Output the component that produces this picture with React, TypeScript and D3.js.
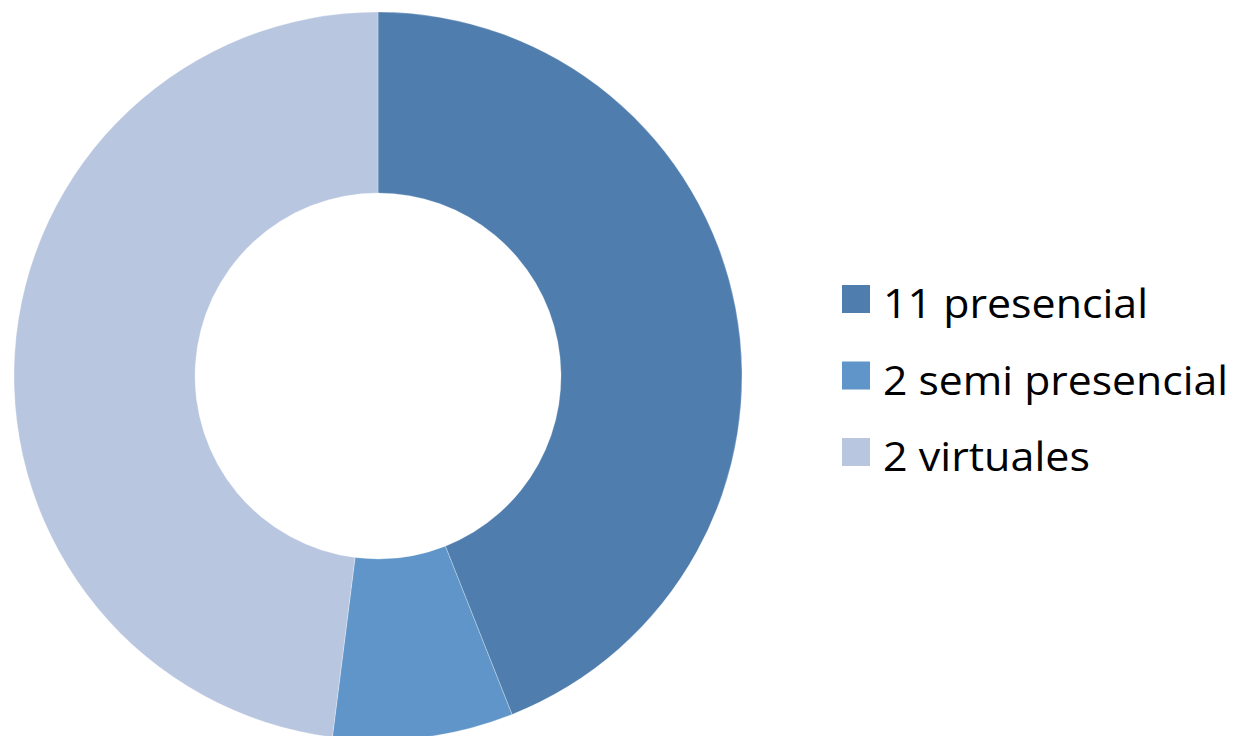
import React from "react";
import * as d3 from "d3";

const categories = ["11 presencial", "2 semi presencial", "2 virtuales"];
const values = [11, 2, 12];
const colors = ["#4F7DAE", "#5F95C8", "#B8C6E0"];
const legendWidths = [265, 345, 207];

export default function App() {
  const W = 1236, H = 736;
  const cx = 378, cy = 376, rOuter = 364, rInner = 183;
  const pie = d3.pie<number>().sort(null).value((d) => d);
  const arcs = pie(values);
  const arc = d3.arc<d3.PieArcDatum<number>>().innerRadius(rInner).outerRadius(rOuter);
  const legendY = d3.scaleLinear().domain([0, 1]).range([285, 361.5]);
  return (
    <svg width={W} height={H} style={{ position: "absolute", left: 0, top: 0, background: "#fff" }}>
      <g transform={`translate(${cx},${cy})`}>
        {arcs.map((a, i) => (
          <path key={i} d={arc(a) || ""} fill={colors[i]} stroke="#ffffff" strokeOpacity={0.35} strokeWidth={0.8} />
        ))}
      </g>
      {categories.map((c, i) => {
        const y = legendY(i);
        return (
          <g key={c}>
            <rect x={842} y={y} width={28} height={28} fill={colors[i]} />
            <text
              x={883}
              y={y + 33}
              fontFamily="'Open Sans', 'Noto Sans', sans-serif"
              fontSize={41}
              fill="#000"
              textLength={legendWidths[i]}
              lengthAdjust="spacingAndGlyphs"
            >
              {c}
            </text>
          </g>
        );
      })}
    </svg>
  );
}
